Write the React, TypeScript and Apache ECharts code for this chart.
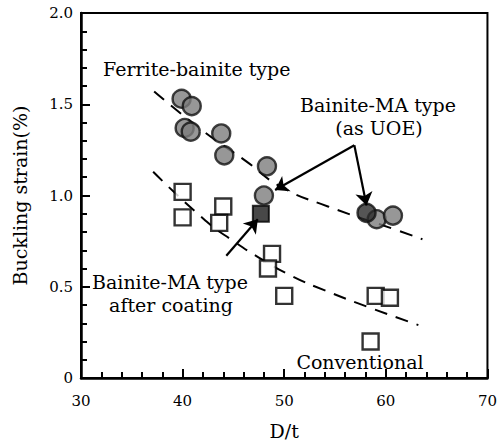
import React, { useEffect, useRef } from "react";
import * as echarts from "echarts";

// Ferrite-bainite type (gray circles)
const fbX = [39.9, 40.9, 40.2, 40.8, 43.8, 44.1, 48.3, 48.0, 59.1, 60.7];
const fbY = [1.53, 1.49, 1.37, 1.35, 1.34, 1.22, 1.16, 1.0, 0.87, 0.89];
// Bainite-MA type (as UOE) dark circle
const uoeX = [58.1];
const uoeY = [0.905];
// Bainite-MA type after coating (black square)
const coatX = [47.7];
const coatY = [0.9];
// Conventional (open squares)
const convX = [40.0, 40.0, 44.0, 43.6, 48.8, 48.4, 50.0, 59.0, 60.4, 58.5];
const convY = [1.02, 0.88, 0.94, 0.85, 0.68, 0.6, 0.45, 0.45, 0.44, 0.2];
// Trend lines (dashed)
const upperX = [37.2, 42.1, 46.2, 49.6, 54.3, 61.1, 63.6];
const upperY = [1.57, 1.35, 1.19, 1.05, 0.94, 0.81, 0.76];
const lowerX = [37.1, 42.3, 45.0, 47.5, 50.7, 54.0, 58.2, 63.2];
const lowerY = [1.13, 0.86, 0.75, 0.66, 0.56, 0.48, 0.39, 0.29];
// Arrows [x1, y1, x2, y2]
const arrows = [
  [56.9, 1.275, 49.1, 1.03],
  [56.9, 1.275, 58.1, 0.945],
  [44.3, 0.67, 47.4, 0.87],
];
const xTicks = [30, 40, 50, 60, 70];
const yTicks = [0, 0.5, 1.0, 1.5, 2.0];

const FONT = "DejaVu Serif";

const zip = (xs: number[], ys: number[]) => xs.map((x, i) => [x, ys[i]]);

export default function App() {
  const ref = useRef<HTMLDivElement>(null);
  useEffect(() => {
    if (!ref.current) return;
    const chart = echarts.init(ref.current, null, { renderer: "svg" });
    const txt = (text: string, x: number, y: number, size = 19, align = "left") => ({
      type: "text",
      x,
      y,
      style: { text, fontFamily: FONT, fontSize: size, fill: "#000", align, verticalAlign: "middle" },
      z: 100,
    });
    chart.setOption({
      animation: false,
      backgroundColor: "#fff",
      grid: {
        left: 81,
        right: 9,
        top: 13,
        bottom: 66,
        show: true,
        borderColor: "#000",
        borderWidth: 2,
        backgroundColor: "transparent",
      },
      xAxis: {
        type: "value",
        min: xTicks[0],
        max: xTicks[xTicks.length - 1],
        interval: 10,
        name: "D/t",
        nameLocation: "middle",
        nameGap: 43,
        nameTextStyle: { fontFamily: FONT, fontSize: 19, color: "#000" },
        axisLine: { lineStyle: { color: "#000", width: 2.5 } },
        axisTick: { inside: true, length: 9, lineStyle: { color: "#000", width: 2 } },
        minorTick: { show: true, splitNumber: 5, length: 6, lineStyle: { color: "#000", width: 2 } },
        splitLine: { show: false },
        axisLabel: { fontFamily: FONT, fontSize: 15, color: "#000", margin: 15 },
      },
      yAxis: {
        type: "value",
        min: yTicks[0],
        max: yTicks[yTicks.length - 1],
        interval: 0.5,
        name: "Buckling strain(%)",
        nameLocation: "middle",
        nameGap: 52,
        nameRotate: 90,
        nameTextStyle: { fontFamily: FONT, fontSize: 19, color: "#000" },
        axisLine: { lineStyle: { color: "#000", width: 2.5 } },
        axisTick: { inside: true, length: 9, lineStyle: { color: "#000", width: 2 } },
        minorTick: { show: true, splitNumber: 5, length: 6, lineStyle: { color: "#000", width: 2 } },
        splitLine: { show: false },
        axisLabel: {
          fontFamily: FONT,
          fontSize: 15,
          color: "#000",
          margin: 8,
          formatter: (v: number) => (v === 0 ? "0" : v.toFixed(1)),
        },
      },
      series: [
        {
          type: "line",
          data: zip(upperX, upperY),
          smooth: true,
          symbol: "none",
          lineStyle: { color: "#000", width: 2, type: [13, 9] },
          z: 1,
        },
        {
          type: "line",
          data: zip(lowerX, lowerY),
          smooth: true,
          symbol: "none",
          lineStyle: { color: "#000", width: 2, type: [13, 9] },
          z: 1,
        },
        {
          type: "scatter",
          name: "Conventional",
          data: zip(convX, convY),
          symbol: "rect",
          symbolSize: 16,
          itemStyle: { color: "#fff", borderColor: "#000", borderWidth: 2.4 },
          z: 3,
        },
        {
          type: "scatter",
          name: "Ferrite-bainite type",
          data: zip(fbX, fbY),
          symbol: "circle",
          symbolSize: 18,
          itemStyle: { color: "#7d7d7d", borderColor: "#111", borderWidth: 2.4 },
          z: 4,
        },
        {
          type: "scatter",
          name: "Bainite-MA type (as UOE)",
          data: zip(uoeX, uoeY),
          symbol: "circle",
          symbolSize: 18,
          itemStyle: { color: "#2a2a2a", borderColor: "#111", borderWidth: 2.4 },
          z: 4,
        },
        {
          type: "scatter",
          name: "Bainite-MA type after coating",
          data: zip(coatX, coatY),
          symbol: "rect",
          symbolSize: 16,
          itemStyle: { color: "#1a1a1a", borderColor: "#000", borderWidth: 2 },
          z: 3,
        },
        {
          type: "lines",
          coordinateSystem: "cartesian2d",
          data: arrows.map((a) => ({ coords: [[a[0], a[1]], [a[2], a[3]]] })),
          symbol: ["none", "arrow"],
          symbolSize: 13,
          lineStyle: { color: "#000", width: 2.2, opacity: 1 },
          z: 6,
        },
      ],
      graphic: [
        txt("Ferrite-bainite type", 103, 69),
        txt("Bainite-MA type", 378, 105, 19, "center"),
        txt("(as UOE)", 379, 128, 19, "center"),
        txt("Bainite-MA type", 170, 282, 19, "center"),
        txt("after coating", 171, 305, 19, "center"),
        txt("Conventional", 360, 362, 19, "center"),
      ],
    });
    return () => chart.dispose();
  }, []);
  return (
    <div
      ref={ref}
      style={{ position: "absolute", left: 0, top: 0, width: 500, height: 445 }}
    />
  );
}
